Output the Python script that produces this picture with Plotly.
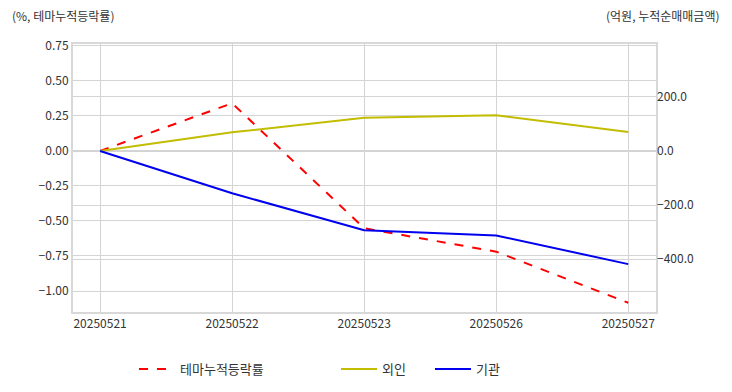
import plotly.graph_objects as go

dates = ["20250521", "20250522", "20250523", "20250526", "20250527"]
theme_pct = [0.0, 0.341, -0.552, -0.719, -1.084]
foreign = [0.0, 69.0, 123.0, 132.0, 70.0]
institution = [0.0, -156.0, -293.0, -312.0, -418.0]

FONT = "Noto Sans CJK KR"
OFF = 8  # page body margin
W, H = 732 - OFF, 392 - OFF
L, R, T, B = 73 - OFF, 76, 44 - OFF, 80
PW, PH = W - L - R, H - T - B

fig = go.Figure()
fig.add_trace(go.Scatter(x=dates, y=theme_pct, name="테마누적등락률",
                         mode="lines", line=dict(color="#ff0000", width=2, dash="dash"),
                         yaxis="y", legend="legend"))
fig.add_trace(go.Scatter(x=dates, y=foreign, name="외인",
                         mode="lines", line=dict(color="#c2bd00", width=2),
                         yaxis="y2", legend="legend2"))
fig.add_trace(go.Scatter(x=dates, y=institution, name="기관",
                         mode="lines", line=dict(color="#0000ee", width=2),
                         yaxis="y2", legend="legend3"))

def leg(px_page):
    return dict(orientation="h", xref="container", yref="container",
                x=(px_page - 5 - OFF) / W, y=1 - (369 - OFF) / H,
                xanchor="left", yanchor="middle", itemwidth=36,
                font=dict(size=13, color="#333333"), bgcolor="rgba(0,0,0,0)")

fig.update_layout(
    width=W, height=H,
    margin=dict(l=L, r=R, t=T, b=B),
    paper_bgcolor="white", plot_bgcolor="white",
    showlegend=True,
    font=dict(family=FONT, size=12, color="#333333"),
    xaxis=dict(type="category", range=[-0.205, 4.21], showgrid=True,
               gridcolor="#d4d4d4", gridwidth=1, showline=True, mirror=True,
               linecolor="#d8d8d8", linewidth=2, ticks="", zeroline=False,
               automargin=False, tickfont=dict(size=12, color="#333333")),
    yaxis=dict(range=[-1.15, 0.764], dtick=0.25, tickformat=".2f",
               showgrid=True, gridcolor="#d4d4d4", gridwidth=1,
               showline=True, mirror=True, linecolor="#d8d8d8", linewidth=2,
               zeroline=False, ticks="", automargin=False,
               tickfont=dict(size=12, color="#333333")),
    yaxis2=dict(range=[-595, 395.6], dtick=200, tickformat=".1f",
                overlaying="y", side="right", showgrid=True,
                gridcolor="#d4d4d4", gridwidth=1, zeroline=False, ticks="",
                automargin=False, tickfont=dict(size=12, color="#333333")),
    legend=leg(139),
    legend2=leg(341),
    legend3=leg(435),
    annotations=[
        dict(text="(%, 테마누적등락률)", xref="paper", yref="paper",
             x=(10 - OFF - L) / PW, y=1 + (T - (16 - OFF)) / PH,
             xanchor="left", yanchor="middle",
             showarrow=False, font=dict(size=12, color="#333333")),
        dict(text="(억원, 누적순매매금액)", xref="paper", yref="paper",
             x=(722 - OFF - L) / PW, y=1 + (T - (16 - OFF)) / PH,
             xanchor="right", yanchor="middle",
             showarrow=False, font=dict(size=12, color="#333333")),
    ],
)

fig.write_html("out.html")
